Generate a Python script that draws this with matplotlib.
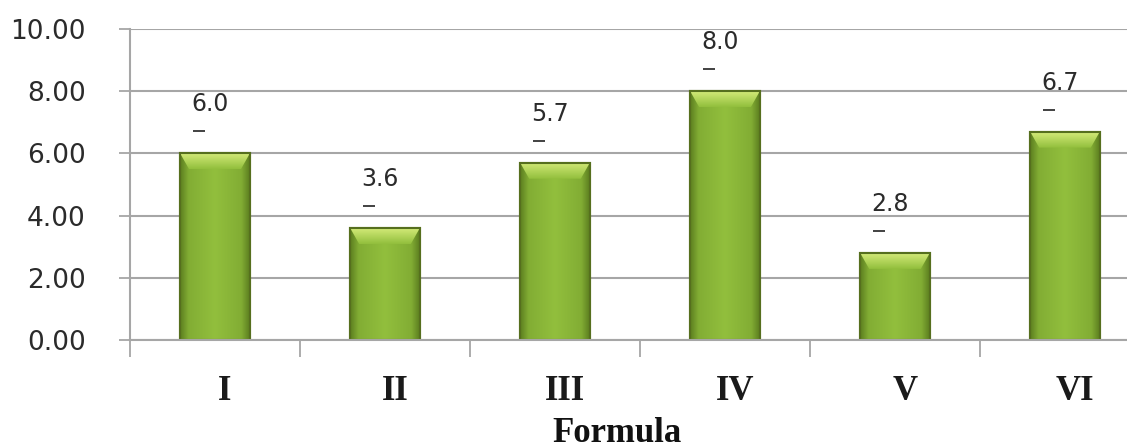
import numpy as np
import matplotlib.pyplot as plt
from matplotlib import transforms
from matplotlib.colors import LinearSegmentedColormap
from matplotlib.patches import Rectangle

formulas = ['I', 'II', 'III', 'IV', 'V', 'VI']
values = [6.0, 3.6, 5.7, 8.0, 2.8, 6.7]
value_labels = ['6.0', '3.6', '5.7', '8.0', '2.8', '6.7']
yticks = [0, 2, 4, 6, 8, 10]

W, H = 1127, 448
fig = plt.figure(figsize=(W / 100, H / 100), dpi=100)
# axes runs off the right edge of the picture, like the cropped original
ax = fig.add_axes([130 / W, 108 / H, 1020 / W, 311 / H])

grid_col = '#a6a6a6'
x = np.arange(len(formulas)) + 0.5
width = 0.41

ax.set_xlim(0, len(formulas))
ax.set_ylim(0, 10)
ax.set_yticks(yticks)
ax.set_yticklabels(['%.2f' % t for t in yticks], fontsize=19, color='#2b2b2b',
                   family='DejaVu Sans')
ax.yaxis.grid(True, color=grid_col, linewidth=1.5, zorder=0)
ax.set_axisbelow(True)

ax.set_xticks(np.arange(len(formulas) + 1))
ax.set_xticklabels([])
ax.set_xticks(x, minor=True)
ax.set_xticklabels(formulas, minor=True, fontsize=25, fontweight='bold',
                   family='Liberation Serif', color='#1a1a1a')
ax.tick_params(axis='x', which='major', length=12, width=1.3, color=grid_col)
ax.tick_params(axis='x', which='minor', length=0, pad=25)
ax.tick_params(axis='y', length=8, width=1.3, color=grid_col, pad=24)
shift = transforms.ScaledTranslation(10 / 100, 0, fig.dpi_scale_trans)
for lab in ax.get_xticklabels(minor=True):
    lab.set_transform(lab.get_transform() + shift)

for s in ['top', 'right']:
    ax.spines[s].set_visible(False)
ax.spines['left'].set_color(grid_col)
ax.spines['left'].set_linewidth(1.5)
ax.spines['bottom'].set_color(grid_col)
ax.spines['bottom'].set_linewidth(1.5)

bars = ax.bar(x, values, width=width, color='#8fba3a', edgecolor='#566f1e',
              linewidth=1.5, zorder=2)

# Excel-ish shading: dark sides, flat green middle, lighter bevel on top
cmap = LinearSegmentedColormap.from_list(
    'g', [(0, '#5c7e20'), (0.12, '#82ad34'), (0.5, '#92bf3d'),
          (0.88, '#82ad34'), (1, '#5c7e20')])
grad = np.linspace(0, 1, 200).reshape(1, -1)
bev_cmap = LinearSegmentedColormap.from_list('b', ['#92bf3d', '#d3ea78'])
px_per_unit = 311 / 10.0
for b in bars:
    x0, y0, w, h = b.get_x(), b.get_y(), b.get_width(), b.get_height()
    im = ax.imshow(grad, cmap=cmap, aspect='auto', extent=[x0, x0 + w, y0, y0 + h],
                   zorder=2.1)
    im.set_clip_path(b)
    bev = 16 / px_per_unit
    inset = w * 0.13
    top = plt.Polygon([[x0, y0 + h], [x0 + w, y0 + h], [x0 + w - inset, y0 + h - bev],
                       [x0 + inset, y0 + h - bev]], closed=True,
                      facecolor='none', edgecolor='none', zorder=2.2)
    ax.add_patch(top)
    bim = ax.imshow(np.linspace(0, 1, 50).reshape(-1, 1), cmap=bev_cmap, aspect='auto',
                    origin='lower', extent=[x0, x0 + w, y0 + h - bev, y0 + h], zorder=2.2)
    bim.set_clip_path(top)
    ax.add_patch(Rectangle((x0, y0), w, h, facecolor='none', edgecolor='#566f1e',
                           linewidth=1.5, zorder=2.3))

dash_tr = transforms.offset_copy(ax.transData, fig=fig, x=-16, y=22, units='dots')
ax.plot(x, values, linestyle='none', marker='_', markersize=8, markeredgewidth=1.3,
        color='#333333', transform=dash_tr, zorder=3, clip_on=False)

for xi, v, lab in zip(x, values, value_labels):
    ax.annotate(lab, (xi, v), xytext=(-5 * 0.72, 49 * 0.72), textcoords='offset points',
                ha='center', va='center', fontsize=17, color='#2b2b2b',
                family='DejaVu Sans', annotation_clip=False)

ax.set_ylim(0, 10)
ax.set_xlim(0, len(formulas))

fig.text(617 / W, 1 - 433 / H, 'Formula', ha='center', va='center', fontsize=25,
         fontweight='bold', family='Liberation Serif', color='#111111')

fig.savefig('out.png', dpi=100)
